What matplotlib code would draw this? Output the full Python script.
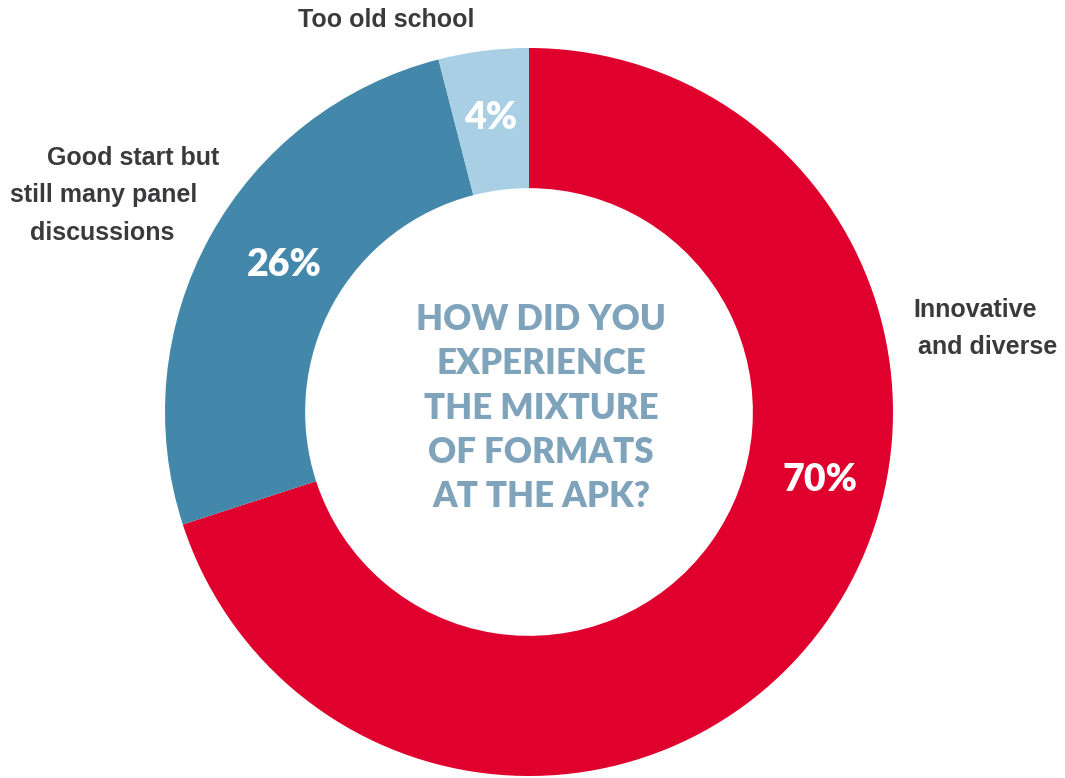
import matplotlib
matplotlib.use('Agg')
from matplotlib import pyplot as plt

# survey answers, clockwise from the top
answers = ['Innovative\nand diverse',
           'Good start but\nstill many panel\ndiscussions',
           'Too old school']
shares = [70, 26, 4]
colors = ['#E0002D', '#4388AB', '#A9CFE5']
question = 'HOW DID YOU\nEXPERIENCE\nTHE MIXTURE\nOF FORMATS\nAT THE APK?'

W, H = 1065, 778
fig = plt.figure(figsize=(W / 100, H / 100), dpi=100)
ax = fig.add_axes([0, 0, 1, 1])

# donut centred in pixel space
cx, cy = 529, H - 412
radius = 364
ax.pie(shares, colors=colors, startangle=90, counterclock=False,
       center=(cx, cy), radius=radius,
       wedgeprops=dict(width=radius * 0.385, linewidth=0))
ax.set_xlim(0, W)
ax.set_ylim(0, H)
ax.set_aspect('equal')
ax.axis('off')

# percentage labels on the ring
pct_pos = [(820, 480), (284, 265), (491, 118)]
for v, (x, y) in zip(shares, pct_pos):
    ax.text(x, H - y, f'{v}%', ha='center', va='center', color='white',
            fontsize=27, fontweight='heavy', family='Lato')

# category labels around the ring
label_style = dict(fontsize=18, fontweight='bold', color='#3a3a3c',
                   family='Liberation Sans', va='center')
right_lines = answers[0].split('\n')
for line, x, y in zip(right_lines, [913, 918], [310, 347]):
    ax.text(x, H - y, line, ha='left', **label_style)
left_lines = answers[1].split('\n')
for line, x, y in zip(left_lines, [133, 104, 102], [158, 195, 233]):
    ax.text(x, H - y, line, ha='center', **label_style)
ax.text(386, H - 20, answers[2], ha='center', **label_style)

# question in the hole
ax.text(cx + 12, H - 408, question, ha='center', va='center', color='#7FA3BA',
        fontsize=25, fontweight='heavy', family='Lato', linespacing=1.42)

fig.savefig('out.png', dpi=100)
